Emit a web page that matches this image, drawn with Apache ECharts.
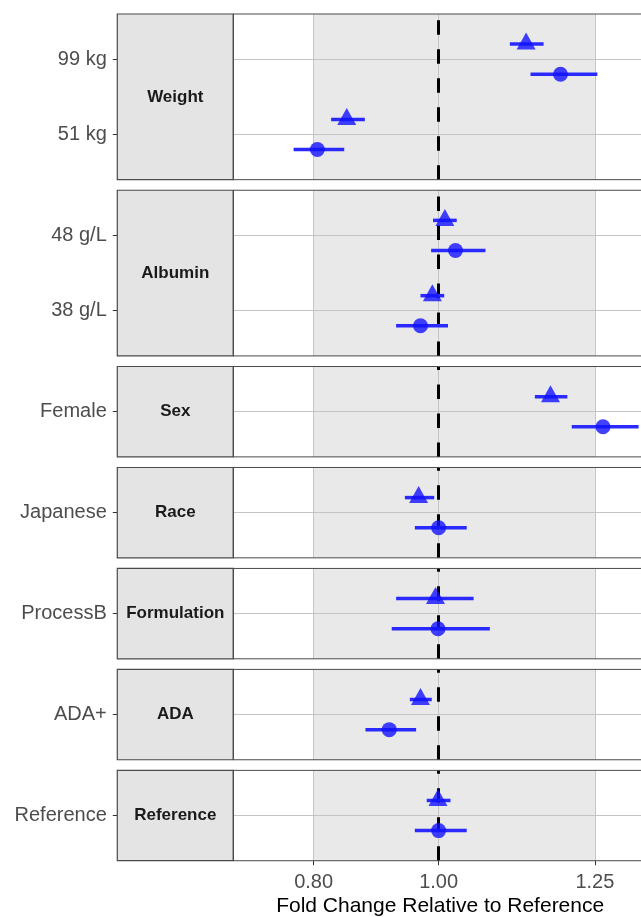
<!DOCTYPE html>
<html><head><meta charset="utf-8">
<script src="https://cdn.jsdelivr.net/npm/echarts@6/dist/echarts.min.js"></script>
<style>html,body{margin:0;padding:0;background:#fff}#c{width:641px;height:917px}</style>
</head><body><div id="c"></div>
<script>
// ---------- data ----------
const panels = ['Weight', 'Albumin', 'Sex', 'Race', 'Formulation', 'ADA', 'Reference'];
const panelRows = [['99 kg', '51 kg'], ['48 g/L', '38 g/L'], ['Female'], ['Japanese'], ['ProcessB'], ['ADA+'], ['Reference']];
// rows in order: 99 kg, 51 kg, 48 g/L, 38 g/L, Female, Japanese, ProcessB, ADA+, Reference
const triMid = [1.140, 0.853, 1.010, 0.990, 1.179, 0.968, 0.995, 0.971, 0.999];
const triLo  = [1.114, 0.828, 0.991, 0.971, 1.154, 0.946, 0.932, 0.954, 0.981];
const triHi  = [1.168, 0.882, 1.029, 1.009, 1.206, 0.993, 1.056, 0.989, 1.019];
const cirMid = [1.195, 0.806, 1.027, 0.971, 1.263, 1.000, 0.999, 0.921, 1.000];
const cirLo  = [1.147, 0.768, 0.988, 0.932, 1.213, 0.962, 0.925, 0.883, 0.962];
const cirHi  = [1.254, 0.849, 1.075, 1.015, 1.320, 1.045, 1.082, 0.964, 1.045];
const xTicks = [0.80, 1.00, 1.25];
const bandRange = [0.80, 1.25];
const refValue = 1.00;
const xTitle = 'Fold Change Relative to Reference';

// ---------- layout ----------
const FONT = '"Liberation Sans", Arial, Helvetica, sans-serif';
const TOP0 = 14, UNIT = 75.3, GAP = 10.6;
const PANEL_L = 233.3, STRIP_L = 117.3, CHART_W = 641, OVERHANG = 6;
const GRID_W = CHART_W - PANEL_L + OVERHANG;
const X_MIN = 0.6715, PX_PER = 625;
const X_MAX = X_MIN + GRID_W / PX_PER;
const DODGE = 0.2;
const BLUE_PT = '#1212ff', BLUE_LN = '#2a2aff';

const grids = [], xAxes = [], yAxes = [], series = [], graphics = [];
let curTop = TOP0, row = 0;
panels.forEach((name, i) => {
  const cats = panelRows[i];
  const n = cats.length;
  const h = (n + 0.2) * UNIT;
  const isLast = i === panels.length - 1;
  grids.push({left: PANEL_L, width: GRID_W, top: curTop, height: h, show: true,
    outerBoundsMode: 'none', containLabel: false,
    backgroundColor: 'transparent', borderColor: '#4a4a4a', borderWidth: 1, z: 10});
  xAxes.push({
    type: 'value', gridIndex: i, min: X_MIN, max: X_MAX, show: isLast,
    axisLine: {show: false},
    axisTick: {show: true, customValues: xTicks, length: 4.5, lineStyle: {color: '#333', width: 1}},
    axisLabel: {customValues: xTicks, formatter: v => v.toFixed(2), fontFamily: FONT, fontSize: 20, color: '#4d4d4d', margin: 12},
    splitLine: {show: false},
    name: isLast ? xTitle : '', nameLocation: 'middle', nameGap: 35,
    nameTextStyle: {fontFamily: FONT, fontSize: 21, color: '#000'}
  });
  const idx = cats.map((c, k) => k + 1);
  yAxes.push({
    type: 'value', gridIndex: i, min: 0.4, max: n + 0.6, inverse: true,
    offset: PANEL_L - STRIP_L,
    axisLine: {show: false, onZero: false},
    axisTick: {show: true, customValues: idx, length: 4.5, lineStyle: {color: '#333', width: 1}},
    axisLabel: {customValues: idx, formatter: v => cats[Math.round(v) - 1] || '', fontFamily: FONT, fontSize: 20, color: '#4d4d4d', margin: 10.5},
    splitLine: {show: false}
  });
  const triPts = [], cirPts = [], bars = [];
  cats.forEach((c, k) => {
    const r = row + k;
    triPts.push([triMid[r], k + 1 - DODGE]);
    cirPts.push([cirMid[r], k + 1 + DODGE]);
    bars.push([triLo[r], triHi[r], k + 1 - DODGE]);
    bars.push([cirLo[r], cirHi[r], k + 1 + DODGE]);
  });
  row += n;
  const gridLines = idx.map(v => ({yAxis: v})).concat(xTicks.map(v => ({xAxis: v})));
  series.push({
    type: 'custom', xAxisIndex: i, yAxisIndex: i, z: 6, silent: true,
    data: bars, encode: {x: [0, 1], y: 2},
    renderItem: (params, api) => {
      const a = api.coord([api.value(0), api.value(2)]);
      const b = api.coord([api.value(1), api.value(2)]);
      return {type: 'line', shape: {x1: a[0], y1: a[1], x2: b[0], y2: b[1]},
        style: {stroke: BLUE_LN, lineWidth: 3.5}};
    }
  });
  series.push({
    type: 'scatter', xAxisIndex: i, yAxisIndex: i, z: 7, silent: true,
    data: triPts, symbol: 'triangle', symbolSize: [19, 17], symbolOffset: [0, -3],
    itemStyle: {color: BLUE_PT},
    markArea: {silent: true, z: 1, itemStyle: {color: '#e9e9e9'},
      data: [[{xAxis: bandRange[0]}, {xAxis: bandRange[1]}]]},
    markLine: {silent: true, z: 2, symbol: 'none', label: {show: false}, animation: false,
      lineStyle: {color: '#c4c4c4', width: 1, type: 'solid'}, data: gridLines}
  });
  series.push({
    type: 'scatter', xAxisIndex: i, yAxisIndex: i, z: 7, silent: true,
    data: cirPts, symbol: 'circle', symbolSize: 15,
    itemStyle: {color: BLUE_PT},
    markLine: {silent: true, z: 3, symbol: 'none', label: {show: false}, animation: false,
      lineStyle: {color: '#000', width: 3, type: [14.5, 14.5], cap: 'butt'},
      data: [[{coord: [refValue, n + 0.6]}, {coord: [refValue, 0.4]}]]}
  });
  graphics.push({type: 'rect', z: 5,
    shape: {x: STRIP_L, y: curTop, width: PANEL_L - STRIP_L, height: h},
    style: {fill: '#e4e4e4', stroke: '#4a4a4a', lineWidth: 1.2}});
  graphics.push({type: 'text', z: 6,
    style: {text: name, x: (STRIP_L + PANEL_L) / 2, y: curTop + h / 2, align: 'center', verticalAlign: 'middle',
      font: 'bold 17px ' + FONT, fill: '#1a1a1a'}});
  curTop += h + GAP;
});

const chart = echarts.init(document.getElementById('c'), null, {renderer: 'canvas'});
chart.setOption({
  animation: false,
  backgroundColor: '#fff',
  grid: grids, xAxis: xAxes, yAxis: yAxes, series: series,
  graphic: graphics
});
</script></body></html>
